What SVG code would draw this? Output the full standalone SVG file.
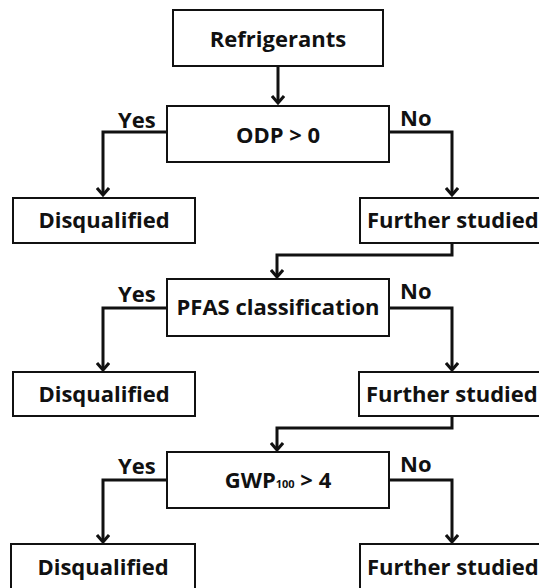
<svg xmlns="http://www.w3.org/2000/svg" width="539" height="588" viewBox="0 0 539 588">
<style>
.box{fill:#fff;stroke:#111;stroke-width:2}
.t{font-family:"Open Sans","Noto Sans",sans-serif;font-weight:bold;font-size:22px;fill:#111;text-anchor:middle}
.lbl{font-family:"Open Sans","Noto Sans",sans-serif;font-weight:bold;font-size:22px;fill:#111}
.c{fill:none;stroke:#111;stroke-width:3;marker-end:url(#ah)}
</style>
<defs>
<marker id="ah" viewBox="0 0 14 14" refX="10" refY="7" markerUnits="userSpaceOnUse" markerWidth="14" markerHeight="14" orient="auto">
<path d="M3,1 L10,7 L3,13" fill="none" stroke="#111" stroke-width="3"/>
</marker>
</defs>
<rect width="539" height="588" fill="#fff"/>
<g id="connectors">
<path class="c" d="M278,66 V103"/>
<path class="c" d="M167,132 H103 V195"/>
<path class="c" d="M389,132 H452 V195"/>
<path class="c" d="M452,243 V255 H277 V277"/>
<path class="c" d="M167,308 H103 V370"/>
<path class="c" d="M389,308 H452 V370"/>
<path class="c" d="M452,416 V428 H277 V450"/>
<path class="c" d="M167,480 H103 V542"/>
<path class="c" d="M389,480 H452 V542"/>
</g>
<g id="labels">
<text class="lbl" x="118" y="128">Yes</text>
<text class="lbl" x="400" y="126">No</text>
<text class="lbl" x="118" y="302">Yes</text>
<text class="lbl" x="400" y="299">No</text>
<text class="lbl" x="118" y="474">Yes</text>
<text class="lbl" x="400" y="472">No</text>
</g>
<g id="n-refrigerants"><rect class="box" x="173" y="10" width="210" height="56"/><text class="t" x="278" y="47">Refrigerants</text></g>
<g id="n-odp"><rect class="box" x="167" y="106" width="222" height="56"/><text class="t" x="278" y="143">ODP &gt; 0</text></g>
<g id="n-disq1"><rect class="box" x="13" y="198" width="182" height="45"/><text class="t" x="104" y="228">Disqualified</text></g>
<g id="n-further1"><rect class="box" x="360" y="198" width="200" height="45"/><text class="lbl" x="367" y="228">Further studied</text></g>
<g id="n-pfas"><rect class="box" x="167" y="279" width="222" height="57"/><text class="t" x="278" y="315">PFAS classification</text></g>
<g id="n-disq2"><rect class="box" x="13" y="372" width="182" height="44"/><text class="t" x="104" y="402">Disqualified</text></g>
<g id="n-further2"><rect class="box" x="359" y="372" width="200" height="44"/><text class="lbl" x="366" y="402">Further studied</text></g>
<g id="n-gwp"><rect class="box" x="167" y="452" width="222" height="56"/><text class="t" x="278" y="488">GWP<tspan font-size="11">100</tspan> &gt; 4</text></g>
<g id="n-disq3"><rect class="box" x="11" y="544" width="184" height="50"/><text class="t" x="103" y="575">Disqualified</text></g>
<g id="n-further3"><rect class="box" x="360" y="544" width="200" height="50"/><text class="lbl" x="367" y="575">Further studied</text></g>
</svg>
